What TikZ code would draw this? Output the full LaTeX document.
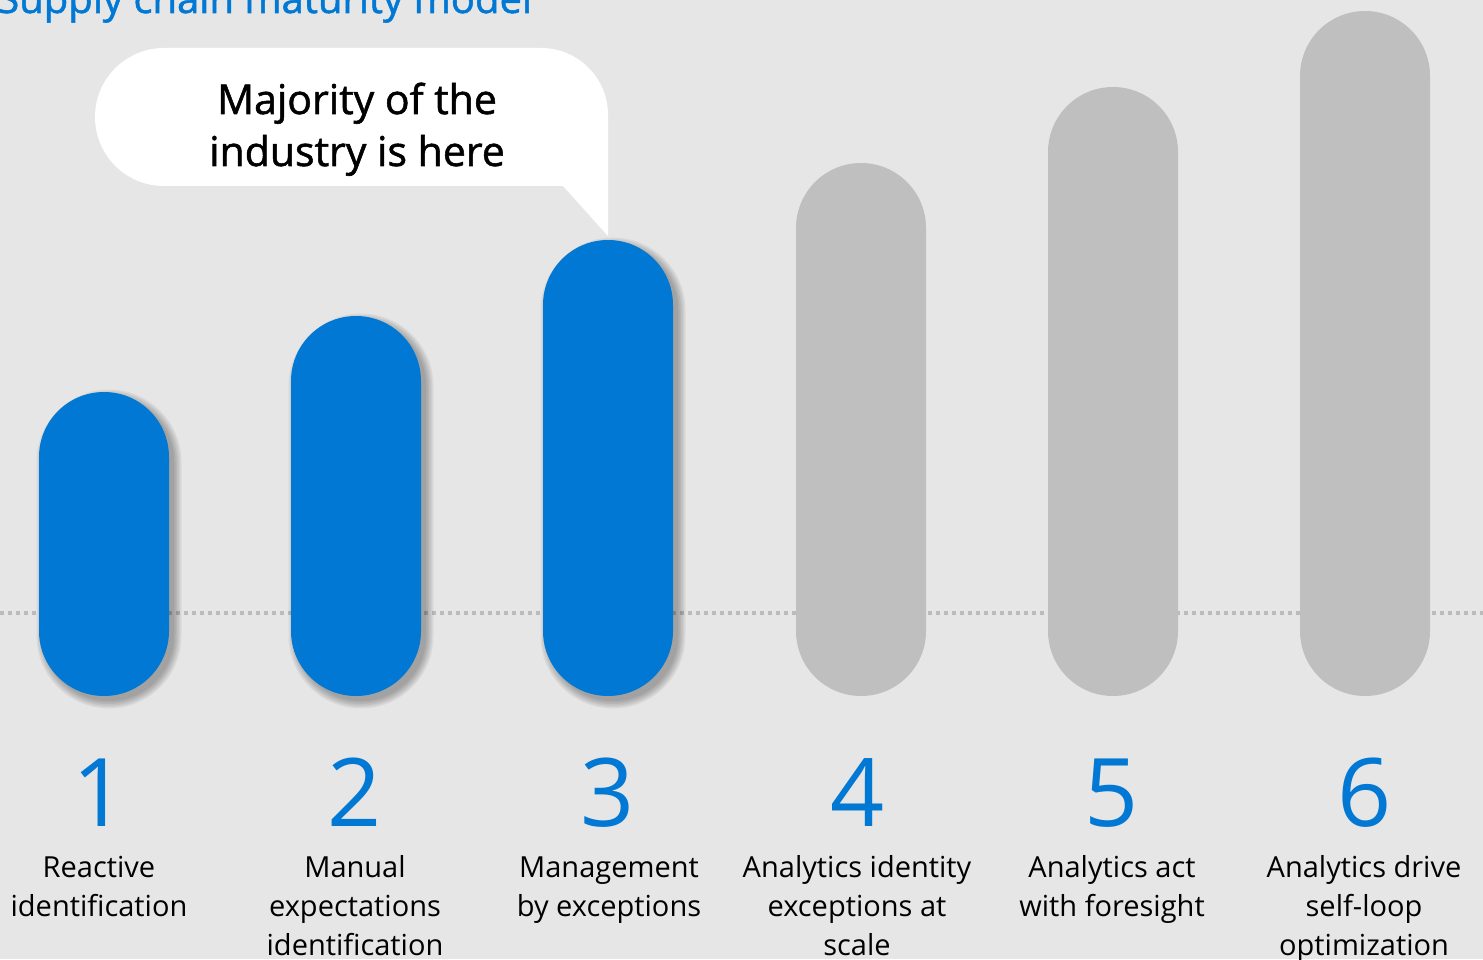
\documentclass[tikz,border=0pt]{standalone}
\usepackage{fontspec}
\setmainfont{Open Sans}
\newfontfamily\semib{Open Sans}[FakeBold=1.3]
\definecolor{bg}{HTML}{E6E6E6}
\definecolor{msblue}{HTML}{0078D4}
\definecolor{bargray}{HTML}{BFBFBF}
\definecolor{dotgray}{HTML}{BBBBBB}
\tikzset{
  numstyle/.style={text=msblue, font=\fontsize{71pt}{71pt}\selectfont, inner sep=0pt, anchor=base},
  labstyle/.style={text=black, font=\fontsize{21.75pt}{29.25pt}\selectfont, align=center, inner sep=0pt, anchor=base},
}
% pill: centre x, top y, bottom y, fill colour
\newcommand\mypill[4]{%
  \fill[#4, rounded corners=48.75pt] (#1-65,#3) rectangle (#1+65,#2);}
\newcommand\mypillshadow[3]{%
  \foreach \e in {0,1.5,3,4.5,6,7.5}{%
    \pgfmathsetmacro\rr{(65+\e)*0.75}%
    \fill[black, opacity=0.055, rounded corners=\rr pt] (#1-65-\e+5,#3+\e+5) rectangle (#1+65+\e+5,#2-\e+5);}}
\begin{document}
\begin{tikzpicture}[x=0.75pt, y=-0.75pt]
\useasboundingbox (0,0) rectangle (1483,959);
\clip (0,0) rectangle (1483,959);
\fill[bg] (0,0) rectangle (1483,959);
% title (cut off at top)
\node[anchor=base west, inner sep=0pt, text=msblue, font=\semib\fontsize{30pt}{30pt}\selectfont] (title) at (-3,13) {Supply chain maturity model};
% dotted baseline
\draw[dotgray, line width=2.6pt, dash pattern=on 3pt off 3pt] (0,613) -- (1483,613);
% grey bars
\mypill{861}{163}{696}{bargray}
\mypill{1113}{87}{696}{bargray}
\mypill{1365}{11}{696}{bargray}
% blue bars with shadows
\mypillshadow{104}{392}{696}
\mypillshadow{356}{316}{696}
\mypillshadow{608}{240}{696}
\mypill{104}{392}{696}{msblue}
\mypill{356}{316}{696}{msblue}
\mypill{608}{240}{696}{msblue}
% callout
\fill[white] (608,236) -- (608,115) arc[start angle=0, end angle=-90, radius=67]
  -- (164,48) arc[start angle=-90, end angle=-270, radius=69] -- (563,186) -- cycle;
\node[anchor=base, inner sep=0pt, align=center, font=\semib\fontsize{30.75pt}{39pt}\selectfont] (callout) at (357,166) {Majority of the\\industry is here};
% numbers
\node[numstyle] (n1) at (100,826) {1};
\node[numstyle] (n2) at (355,826) {2};
\node[numstyle] (n3) at (608,826) {3};
\node[numstyle] (n4) at (858,826) {4};
\node[numstyle] (n5) at (1112,826) {5};
\node[numstyle] (n6) at (1365,826) {6};
% labels (anchor base = baseline of last line)
\node[labstyle] (l1) at (99,916) {Reactive\\identification};
\node[labstyle] (l2) at (355,955) {Manual\\expectations\\identification};
\node[labstyle] (l3) at (609,916) {Management\\by exceptions};
\node[labstyle] (l4) at (857,955) {Analytics identity\\exceptions at\\scale};
\node[labstyle] (l5) at (1112,916) {Analytics act\\with foresight};
\node[labstyle] (l6) at (1364,955) {Analytics drive\\self-loop\\optimization};
\end{tikzpicture}
\end{document}
